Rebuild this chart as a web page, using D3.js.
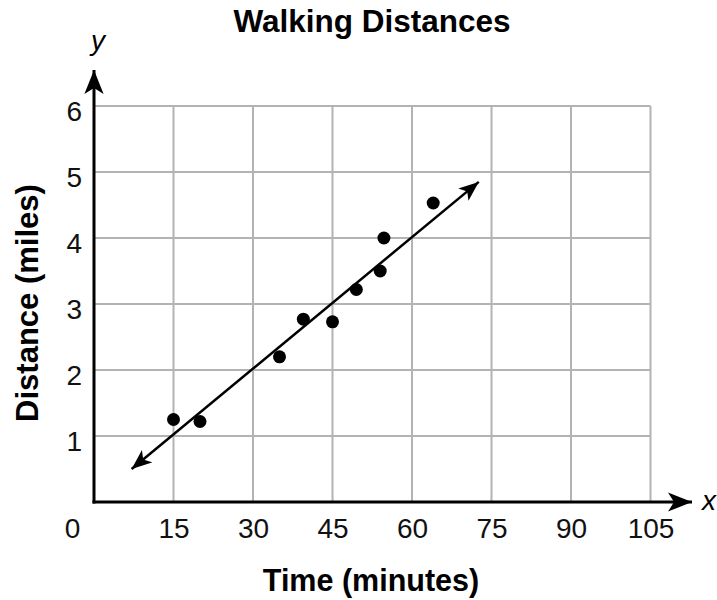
<!DOCTYPE html>
<html>
<head>
<meta charset="utf-8">
<script src="https://cdn.jsdelivr.net/npm/d3@7"></script>
<style>
  body { margin: 0; background: #fff; }
  svg { font-family: "Liberation Sans", Arial, sans-serif; }
</style>
</head>
<body>
<div id="chart"></div>
<script>
// data
let times     = [15, 20, 35, 39.5, 45, 49.5, 54, 54.7, 64];
let distances = [1.25, 1.22, 2.2, 2.77, 2.73, 3.22, 3.5, 4.0, 4.53];
let fitLine   = [[7.1, 0.5], [72.6, 4.85]];
let xTicks = [0, 15, 30, 45, 60, 75, 90, 105];
let yTicks = [1, 2, 3, 4, 5, 6];

let width = 717, height = 600;
let x0 = 94, x1 = 650.5, y0 = 502, y1 = 106;
let fontName = "Liberation Sans, Arial, sans-serif";

let xScale = d3.scaleLinear().domain([0, 105]).range([x0, x1]);
let yScale = d3.scaleLinear().domain([0, 6]).range([y0, y1]);

let svg = d3.select("#chart").append("svg")
    .attr("width", width)
    .attr("height", height);

// arrowheads (dart shape)
let defs = svg.append("defs");
function dart(id, size) {
  defs.append("marker")
    .attr("id", id)
    .attr("viewBox", "0 0 20 16")
    .attr("refX", 20).attr("refY", 8)
    .attr("markerWidth", size).attr("markerHeight", size * 0.8)
    .attr("markerUnits", "userSpaceOnUse")
    .attr("orient", "auto-start-reverse")
    .append("path")
    .attr("d", "M0,0 L20,8 L0,16 L5,8 Z")
    .attr("fill", "black");
}
dart("axisArrow", 24);
dart("lineArrow", 20);

// grid
let grid = svg.append("g").attr("stroke", "#b3b3b3").attr("stroke-width", 2);
grid.selectAll("line.v").data(xTicks.slice(1)).enter().append("line")
  .attr("x1", d => xScale(d)).attr("x2", d => xScale(d))
  .attr("y1", y0).attr("y2", y1);
grid.selectAll("line.h").data(yTicks).enter().append("line")
  .attr("x1", x0).attr("x2", x1)
  .attr("y1", d => yScale(d)).attr("y2", d => yScale(d));

// axes with arrows
svg.append("line")
  .attr("x1", x0 - 1.5).attr("y1", y0).attr("x2", 692).attr("y2", y0)
  .attr("stroke", "black").attr("stroke-width", 3)
  .attr("marker-end", "url(#axisArrow)");
svg.append("line")
  .attr("x1", x0).attr("y1", y0 + 1.5).attr("x2", x0).attr("y2", 70)
  .attr("stroke", "black").attr("stroke-width", 3)
  .attr("marker-end", "url(#axisArrow)");

// tick labels
let xAxis = svg.append("g")
  .attr("transform", "translate(0," + y0 + ")")
  .call(d3.axisBottom(xScale).tickValues(xTicks).tickFormat(d3.format("d"))
        .tickSize(0).tickPadding(0));
xAxis.select(".domain").remove();
xAxis.selectAll("text")
  .attr("dy", null).attr("y", 36)
  .attr("font-size", 28).attr("font-family", fontName)
  .attr("fill", "#111")
  .attr("x", d => d === 0 ? -22 : 0);

let yAxis = svg.append("g")
  .attr("transform", "translate(" + x0 + ",0)")
  .call(d3.axisLeft(yScale).tickValues(yTicks).tickFormat(d3.format("d"))
        .tickSize(0).tickPadding(12));
yAxis.select(".domain").remove();
yAxis.selectAll("text")
  .attr("dy", "0.5em")
  .attr("font-size", 28).attr("font-family", fontName)
  .attr("fill", "#111");

// fit line
svg.append("path")
  .datum(fitLine)
  .attr("d", d3.line().x(d => xScale(d[0])).y(d => yScale(d[1])))
  .attr("fill", "none")
  .attr("stroke", "black").attr("stroke-width", 2.5)
  .attr("marker-start", "url(#lineArrow)")
  .attr("marker-end", "url(#lineArrow)");

// points
svg.selectAll("circle.pt").data(times).enter().append("circle")
  .attr("cx", d => xScale(d))
  .attr("cy", (d, i) => yScale(distances[i]))
  .attr("r", 6.5)
  .attr("fill", "black");

// titles and labels
svg.append("text")
  .attr("x", 372).attr("y", 32)
  .attr("text-anchor", "middle")
  .attr("font-size", 31.5).attr("font-weight", "bold")
  .text("Walking Distances");

svg.append("text")
  .attr("x", 371).attr("y", 591)
  .attr("text-anchor", "middle")
  .attr("font-size", 30.5).attr("font-weight", "bold")
  .text("Time (minutes)");

svg.append("text")
  .attr("transform", "translate(38,303) rotate(-90)")
  .attr("text-anchor", "middle")
  .attr("font-size", 31).attr("font-weight", "bold")
  .text("Distance (miles)");

svg.append("text")
  .attr("x", 98).attr("y", 50)
  .attr("text-anchor", "middle")
  .attr("font-size", 28).attr("font-style", "italic")
  .text("y");

svg.append("text")
  .attr("x", 709).attr("y", 510)
  .attr("text-anchor", "middle")
  .attr("font-size", 28).attr("font-style", "italic")
  .text("x");
</script>
</body>
</html>
